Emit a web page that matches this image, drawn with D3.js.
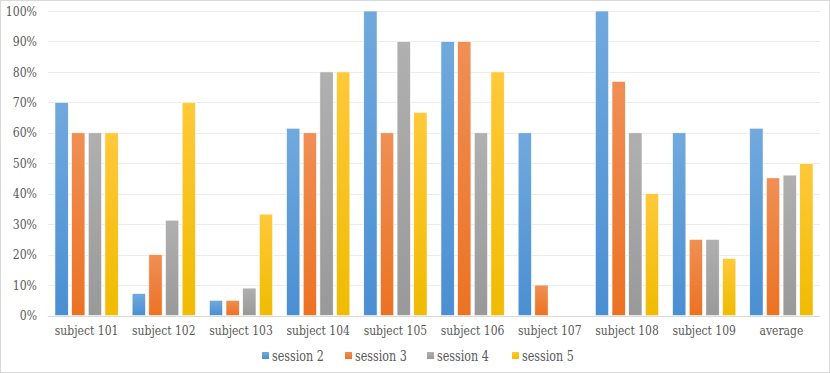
<!DOCTYPE html>
<html lang="en">
<head>
    <meta charset="UTF-8">
    <title>Sessions per subject</title>
    <script src="https://d3js.org/d3.v7.min.js"></script>
    <style>
        body { margin: 0; background: #fff; }
    </style>
</head>
<body>
    <div id="chart"></div>

    <script>
        // categories + series (values in %)
        const subjects = ["subject 101", "subject 102", "subject 103", "subject 104", "subject 105",
                          "subject 106", "subject 107", "subject 108", "subject 109", "average"];
        const sessions = ["session 2", "session 3", "session 4", "session 5"];
        const session2 = [70, 7.2, 5, 61.5, 100, 90, 60, 100, 60, 61.5];
        const session3 = [60, 20, 5, 60, 60, 90, 10, 76.9, 25, 45.2];
        const session4 = [60, 31.3, 9, 80, 90, 60, 0, 60, 25, 46.1];
        const session5 = [60, 70, 33.3, 80, 66.7, 80, 0, 40, 18.75, 49.9];
        const yTicks = [0, 10, 20, 30, 40, 50, 60, 70, 80, 90, 100];

        const seriesValues = [session2, session3, session4, session5];
        const colors = [
            { top: "#71a9dd", bottom: "#4a8fd3" },
            { top: "#f08f55", bottom: "#ec7223" },
            { top: "#b0b0b0", bottom: "#999999" },
            { top: "#ffc93a", bottom: "#f0bb00" }
        ];

        // only serif face that resolves here is DejaVu Serif, which runs wide -> squeeze it a bit
        const FONT = "'DejaVu Serif', serif";
        function condense(sel, k) {
            sel.each(function () {
                const w = this.getComputedTextLength();
                d3.select(this).attr("textLength", w * k).attr("lengthAdjust", "spacingAndGlyphs");
            });
        }

        const width = 830, height = 373;
        const margin = { top: 11, right: 10, bottom: 57, left: 48 };

        const svg = d3.select("#chart").append("svg")
            .attr("width", width)
            .attr("height", height);

        // chart area border
        svg.append("rect")
            .attr("x", 0.5).attr("y", 0.5)
            .attr("width", width - 1).attr("height", height - 1)
            .attr("fill", "#fff")
            .attr("stroke", "#d9d9d9");

        const defs = svg.append("defs");
        colors.forEach((c, i) => {
            const g = defs.append("linearGradient")
                .attr("id", "grad" + i)
                .attr("x1", 0).attr("y1", 0).attr("x2", 0).attr("y2", 1);
            g.append("stop").attr("offset", "0%").attr("stop-color", c.top);
            g.append("stop").attr("offset", "100%").attr("stop-color", c.bottom);
        });

        const x0 = d3.scaleBand()
            .domain(subjects)
            .range([margin.left, width - margin.right])
            .paddingInner(0.18)
            .paddingOuter(0.09);

        const x1 = d3.scaleBand()
            .domain(sessions)
            .range([0, x0.bandwidth()])
            .paddingInner(0.2);

        const y = d3.scaleLinear()
            .domain([0, 100])
            .range([height - margin.bottom - 0.5, margin.top]);

        // grid lines
        svg.append("g")
            .selectAll("line")
            .data(yTicks)
            .join("line")
            .attr("x1", margin.left)
            .attr("x2", width - margin.right)
            .attr("y1", d => Math.round(y(d)) + 0.5)
            .attr("y2", d => Math.round(y(d)) + 0.5)
            .attr("stroke", d => d === 0 ? "#d9d9d9" : "#ececec");

        // y labels
        const yAxis = d3.axisLeft(y)
            .tickValues(yTicks)
            .tickFormat(d => d + "%")
            .tickSize(0)
            .tickPadding(11);

        svg.append("g")
            .attr("transform", `translate(${margin.left},0)`)
            .call(yAxis)
            .attr("font-family", FONT)
            .call(g => g.select(".domain").remove())
            .selectAll("text")
            .attr("font-family", FONT)
            .attr("font-size", 13)
            .attr("fill", "#595959")
            .call(condense, 0.84);

        // bars
        const groups = svg.append("g")
            .selectAll("g")
            .data(subjects)
            .join("g")
            .attr("transform", d => `translate(${x0(d)},0)`);

        groups.selectAll("rect")
            .data((d, i) => sessions.map((s, j) => ({ s, j, v: seriesValues[j][i] })))
            .join("rect")
            .attr("x", d => x1(d.s))
            .attr("width", x1.bandwidth())
            .attr("y", d => y(d.v))
            .attr("height", d => y(0) - y(d.v))
            .attr("fill", d => `url(#grad${d.j})`)
            .attr("stroke", "#fff")
            .attr("stroke-width", 0.6);

        // x labels
        const xAxis = d3.axisBottom(x0).tickSize(0).tickPadding(10);
        svg.append("g")
            .attr("transform", `translate(0,${y(0)})`)
            .call(xAxis)
            .attr("font-family", FONT)
            .call(g => g.select(".domain").remove())
            .selectAll("text")
            .attr("font-family", FONT)
            .attr("font-size", 13)
            .attr("fill", "#595959")
            .call(condense, 0.83);

        // legend
        const legendX = [262, 345, 427, 512];
        const legend = svg.append("g")
            .attr("transform", "translate(0,356)");

        const item = legend.selectAll("g")
            .data(sessions)
            .join("g")
            .attr("transform", (d, i) => `translate(${legendX[i]},0)`);

        item.append("rect")
            .attr("x", 0).attr("y", -4)
            .attr("width", 7).attr("height", 7)
            .attr("fill", (d, i) => `url(#grad${i})`);

        item.append("text")
            .attr("x", 10)
            .attr("dy", "0.35em")
            .attr("font-family", FONT)
            .attr("font-size", 14.5)
            .attr("fill", "#595959")
            .text(d => d)
            .call(condense, 0.77);
    </script>
</body>
</html>
